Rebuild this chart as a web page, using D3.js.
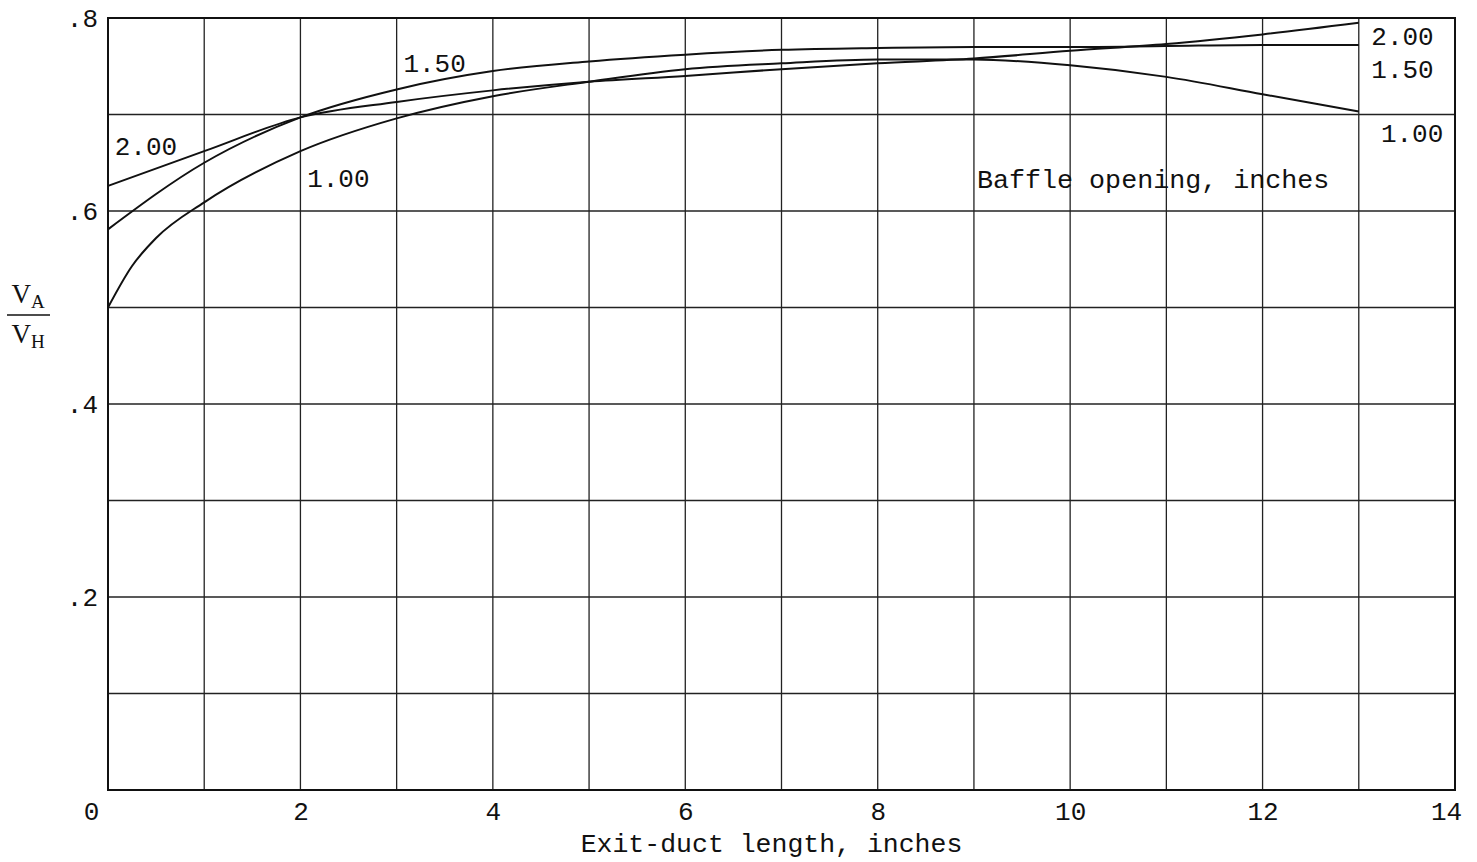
<!DOCTYPE html>
<html>
<head>
<meta charset="utf-8">
<script src="https://cdn.jsdelivr.net/npm/d3@7/dist/d3.min.js"></script>
<style>
  html, body { margin: 0; padding: 0; background: #fff; }
  svg { display: block; }
  text { font-family: 'Liberation Mono', 'DejaVu Sans Mono', monospace; fill: #111; }
  text.serif { font-family: 'Liberation Serif', 'DejaVu Serif', serif; }
</style>
</head>
<body>
<div id="chart"></div>
<script>
const width = 1477;
const height = 862;

// exit-duct length, inches
const xs = [0, 1, 2, 3, 4, 5, 6, 7, 8, 9, 10, 11, 12, 13];
const xs100 = [0, 0.25, 0.5, 1, 2, 3, 4, 5, 6, 7, 8, 9, 10, 11, 12, 13];

// VA/VH for each baffle opening
const baffle100 = [0.500, 0.543, 0.572, 0.609, 0.662, 0.696, 0.719, 0.734, 0.747, 0.753, 0.757, 0.757, 0.751, 0.739, 0.721, 0.703];
const baffle150 = [0.581, 0.650, 0.697, 0.726, 0.745, 0.755, 0.762, 0.767, 0.769, 0.770, 0.770, 0.771, 0.772, 0.772];
const baffle200 = [0.626, 0.662, 0.697, 0.713, 0.725, 0.734, 0.740, 0.747, 0.753, 0.758, 0.766, 0.773, 0.783, 0.795];

const xTicks = [0, 2, 4, 6, 8, 10, 12, 14];
const yTicks = [0.2, 0.4, 0.6, 0.8];
const xGrid = d3.range(1, 14);
const yGrid = d3.range(1, 8).map(d => d / 10);

// curve labels: [text, x, y] in data units
const curveLabels = [
  ['1.50', 3.07, 0.744],
  ['2.00', 0.07, 0.658],
  ['1.00', 2.07, 0.625],
  ['2.00', 13.13, 0.772],
  ['1.50', 13.13, 0.738],
  ['1.00', 13.23, 0.672]
];

const margin = { top: 18, right: 22, bottom: 72, left: 108 };

const svg = d3.select('#chart').append('svg')
  .attr('width', width)
  .attr('height', height);

const x = d3.scaleLinear().domain([0, 14]).range([margin.left, width - margin.right]);
const y = d3.scaleLinear().domain([0, 0.8]).range([height - margin.bottom, margin.top]);

// grid
svg.append('g')
  .selectAll('line')
  .data(xGrid)
  .join('line')
  .attr('x1', d => x(d))
  .attr('x2', d => x(d))
  .attr('y1', y(0))
  .attr('y2', y(0.8))
  .attr('stroke', '#222')
  .attr('stroke-width', 1.3);

svg.append('g')
  .selectAll('line')
  .data(yGrid)
  .join('line')
  .attr('x1', x(0))
  .attr('x2', x(14))
  .attr('y1', d => y(d))
  .attr('y2', d => y(d))
  .attr('stroke', '#222')
  .attr('stroke-width', 1.3);

svg.append('rect')
  .attr('x', x(0))
  .attr('y', y(0.8))
  .attr('width', x(14) - x(0))
  .attr('height', y(0) - y(0.8))
  .attr('fill', 'none')
  .attr('stroke', '#111')
  .attr('stroke-width', 2);

// axes labels
const xAxis = svg.append('g')
  .attr('transform', `translate(0,${y(0)})`)
  .call(d3.axisBottom(x).tickValues(xTicks).tickSize(0).tickPadding(12).tickFormat(d3.format('d')));
xAxis.select('.domain').remove();
xAxis.selectAll('text')
  .attr('font-size', 26)
  .attr('font-family', null)
  .attr('dx', d => (d === 0 ? -17 : d === 14 ? -9 : 0));

const yAxis = svg.append('g')
  .attr('transform', `translate(${x(0)},0)`)
  .call(d3.axisLeft(y).tickValues(yTicks).tickSize(0).tickPadding(10)
    .tickFormat(d => d3.format('.1f')(d).replace(/^0/, '')));
yAxis.select('.domain').remove();
yAxis.selectAll('text')
  .attr('font-size', 26)
  .attr('font-family', null);

svg.append('text')
  .attr('x', (x(0) + x(14)) / 2 - 10)
  .attr('y', height - 10)
  .attr('text-anchor', 'middle')
  .attr('font-size', 26.5)
  .text('Exit-duct length, inches');

// VA / VH fraction
const frac = svg.append('g');
frac.append('text')
  .attr('class', 'serif')
  .attr('x', 28)
  .attr('y', 303)
  .attr('text-anchor', 'middle')
  .attr('font-size', 27)
  .html('V<tspan font-size="19" dy="5">A</tspan>');
frac.append('line')
  .attr('x1', 7)
  .attr('x2', 50)
  .attr('y1', 315)
  .attr('y2', 315)
  .attr('stroke', '#111')
  .attr('stroke-width', 1.5);
frac.append('text')
  .attr('class', 'serif')
  .attr('x', 28)
  .attr('y', 343)
  .attr('text-anchor', 'middle')
  .attr('font-size', 27)
  .html('V<tspan font-size="19" dy="5">H</tspan>');

// curves
const line = d3.line()
  .x(d => x(d[0]))
  .y(d => y(d[1]))
  .curve(d3.curveMonotoneX);

const series = [
  d3.zip(xs100, baffle100),
  d3.zip(xs, baffle150),
  d3.zip(xs, baffle200)
];

svg.append('g')
  .selectAll('path')
  .data(series)
  .join('path')
  .attr('d', line)
  .attr('fill', 'none')
  .attr('stroke', '#111')
  .attr('stroke-width', 2);

svg.append('g')
  .selectAll('text')
  .data(curveLabels)
  .join('text')
  .attr('x', d => x(d[1]))
  .attr('y', d => y(d[2]))
  .attr('font-size', 26)
  .text(d => d[0]);

svg.append('text')
  .attr('x', 977)
  .attr('y', 188)
  .attr('font-size', 26.7)
  .text('Baffle opening, inches');
</script>
</body>
</html>
